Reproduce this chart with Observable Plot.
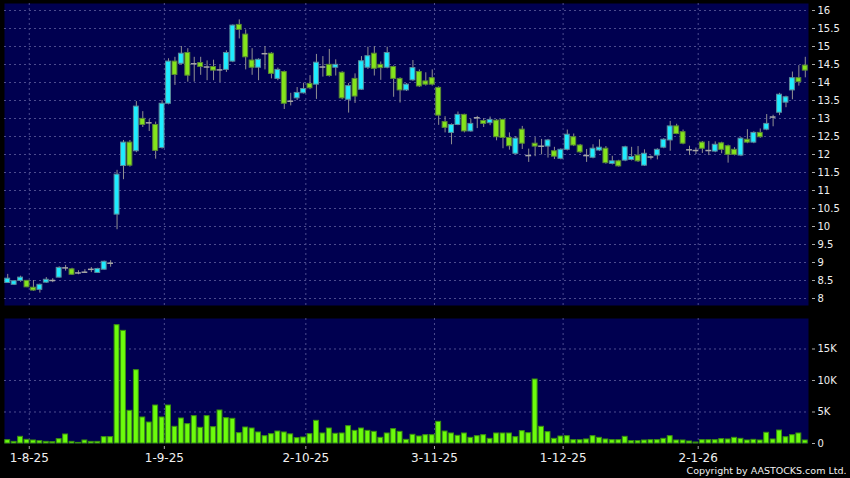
<!DOCTYPE html>
<html><head><meta charset="utf-8">
<script src="https://cdn.jsdelivr.net/npm/d3@7"></script>
<script src="https://cdn.jsdelivr.net/npm/@observablehq/plot@0.6"></script>
<style>
html,body{margin:0;padding:0;background:#000;}
#chart{width:850px;height:478px;background:#000;overflow:hidden;}
#chart svg{display:block;}
</style></head>
<body><div id="chart"></div>
<script>
// Daily candles, trading-day index 0..124 (late Jul 2025 – late Jan 2026)
const opens = [8.43,8.38,8.49,8.49,8.30,8.24,8.44,8.50,8.58,8.85,8.81,8.71,8.73,8.81,8.71,8.80,8.98,
10.33,11.68,12.33,12.09,12.99,12.88,12.82,12.18,13.41,14.58,14.52,14.82,14.52,14.54,14.43,14.43,14.35,14.35,14.58,15.60,15.33,14.61,14.41,14.80,14.80,14.10,14.29,13.48,13.56,
13.70,13.96,13.94,14.43,14.49,14.41,14.27,13.52,14.10,13.80,14.41,14.80,14.49,14.41,14.43,14.10,13.78,14.06,14.29,14.03,
14.12,13.85,12.90,12.60,12.82,13.10,12.64,13.02,12.93,12.87,12.94,12.96,12.46,12.02,12.69,11.97,12.30,12.23,12.22,12.09,
11.88,12.13,12.48,12.25,11.97,11.91,12.11,12.16,11.74,11.81,11.83,11.85,11.97,11.69,11.93,11.97,12.19,12.39,12.78,12.62,12.13,
12.11,12.33,12.11,12.08,12.31,12.23,12.13,11.97,12.41,12.33,12.60,12.69,13.04,13.16,13.44,13.78,14.12,14.47];
const highs = [8.67,8.50,8.62,8.50,8.50,8.40,8.58,8.55,8.88,8.92,8.84,8.77,8.80,8.86,8.84,9.04,9.05,
11.56,12.39,12.39,13.47,13.19,12.97,12.90,13.50,14.66,14.70,15.00,14.94,14.70,14.70,14.60,14.62,14.47,14.88,15.60,15.74,15.46,14.94,14.66,15.00,14.83,14.40,14.32,13.70,13.86,
13.98,14.19,14.78,14.72,14.92,14.63,14.30,13.97,14.24,14.72,14.98,15.00,14.57,14.98,14.46,14.13,13.97,14.61,14.35,14.27,
14.35,13.88,13.05,12.85,13.18,13.12,12.98,13.06,13.00,13.04,12.97,12.98,12.60,12.50,12.78,12.15,12.47,12.42,12.42,12.20,
12.16,12.68,12.57,12.28,12.14,12.27,12.41,12.22,11.95,11.84,12.23,12.20,12.22,12.13,11.96,12.16,12.44,12.92,12.84,12.68,12.23,
12.18,12.36,12.36,12.35,12.34,12.26,12.19,12.47,12.69,12.63,12.71,13.11,13.09,13.70,13.62,14.29,14.47,14.70];
const lows = [8.42,8.36,8.45,8.30,8.20,8.15,8.42,8.44,8.57,8.76,8.64,8.66,8.70,8.72,8.70,8.79,8.87,
9.91,11.30,11.65,12.05,12.75,12.64,11.87,12.15,13.38,13.92,14.48,14.01,14.01,14.20,14.05,14.05,14.00,14.28,14.55,15.21,14.35,14.20,14.05,14.35,14.10,14.05,13.25,13.35,13.50,
13.68,13.80,13.53,14.15,14.15,14.18,13.52,13.15,13.42,13.78,14.36,14.18,14.06,14.38,13.59,13.43,13.75,14.03,13.86,13.90,
13.90,12.81,12.60,12.27,12.80,12.60,12.62,12.72,12.75,12.80,12.38,12.16,12.12,11.98,12.14,11.78,11.94,11.99,11.90,11.86,
11.85,12.10,12.22,12.03,11.78,11.88,12.08,11.73,11.71,11.65,11.80,11.82,11.78,11.67,11.85,11.85,12.16,12.09,12.55,12.27,11.97,
12.00,12.03,11.97,12.05,12.02,11.76,11.96,11.94,12.30,12.30,12.45,12.66,12.77,13.08,13.30,13.52,13.90,14.13];
const closes = [8.55,8.48,8.58,8.31,8.22,8.38,8.52,8.50,8.85,8.85,8.66,8.71,8.73,8.81,8.82,9.02,8.98,
11.44,12.33,11.69,13.33,12.82,12.88,12.10,13.41,14.58,14.21,14.80,14.19,14.52,14.43,14.43,14.33,14.35,14.82,15.58,15.46,14.70,14.41,14.63,14.80,14.24,14.35,13.41,13.48,13.71,
13.82,13.84,14.55,14.43,14.18,14.49,13.56,13.90,13.61,14.59,14.73,14.38,14.40,14.82,14.10,13.78,13.94,14.40,13.89,13.94,
13.94,13.08,12.74,12.82,13.10,12.64,12.85,13.02,12.85,12.96,12.48,12.46,12.23,12.44,12.30,11.97,12.22,12.23,12.39,11.94,
12.13,12.55,12.25,12.06,11.97,12.16,12.19,11.76,11.81,11.67,12.20,11.93,11.81,12.02,11.93,12.13,12.41,12.78,12.57,12.30,12.13,
12.11,12.16,12.11,12.27,12.13,11.99,11.99,12.44,12.33,12.60,12.48,12.85,13.04,13.66,13.59,14.12,14.01,14.33];
const volumes = [530,260,1060,580,480,370,260,210,690,1430,260,100,480,260,260,1010,1010,
18780,17880,5190,11640,4130,3330,6030,4130,6030,2650,3970,3070,4340,2490,4340,2590,5240,4020,3920,1640,2540,2380,1750,1160,1480,1900,1750,1450,850,
950,1480,3600,1590,2380,1540,1590,2750,2010,2380,2010,1850,900,1590,2280,1850,580,1380,1110,1320,
1320,3440,1900,1590,1220,1590,900,1160,1320,740,1590,1590,1590,1010,1960,1640,10160,2650,1800,740,
1110,1160,530,530,640,1160,900,640,530,530,1060,370,370,480,530,530,740,1160,480,480,320,
160,530,530,530,690,640,900,740,480,580,480,1700,640,2060,1000,1320,1590,480];
// first trading day of each month, as candle index, and its label
const tickIndex = [3, 24, 46, 66, 86, 107];
const tickLabels = ["1-8-25", "1-9-25", "2-10-25", "3-11-25", "1-12-25", "2-1-26"];
const priceTicks = [8,8.5,9,9.5,10,10.5,11,11.5,12,12.5,13,13.5,14,14.5,15,15.5,16];
const volumeTicks = [0,5000,10000,15000];
const copyright = "Copyright by AASTOCKS.com Ltd.";

const candles = opens.map((o, i) => ({i, open: o, high: highs[i], low: lows[i], close: closes[i], volume: volumes[i]}));
const up = candles.filter(d => d.close > d.open);
const down = candles.filter(d => d.close < d.open);
const flat = candles.filter(d => d.close === d.open);

const NAVY = "#000050", GRID = "#4c4c8e";
const CYAN = "#1eecff", CYAN_EDGE = "#5a8c9c";
const GREEN = "#84e41c", GREEN_EDGE = "#5a8a34";
const LIME = "#6cfc0c", LIME_EDGE = "#3a9010";
const WICK = "#909090";
const OFF = 0.35, HW = 0.38;
const gridX = tickIndex.map(d => d + OFF);
const labelOf = new Map(gridX.map((d, k) => [d, tickLabels[k]]));
const xScale = {type: "linear", domain: [-0.5, 124.5], axis: null};
const style = {background: "transparent", color: "#fff", fontFamily: "DejaVu Sans, sans-serif", overflow: "visible"};

const price = Plot.plot({
  width: 850, height: 310,
  marginLeft: 4, marginRight: 42, marginTop: 3, marginBottom: 5,
  style,
  x: xScale,
  y: {domain: [8 - 7/36, 16 + 7/36], axis: null},
  marks: [
    Plot.frame({fill: NAVY, stroke: null}),
    Plot.ruleY(priceTicks, {stroke: GRID, strokeDasharray: "2,3"}),
    Plot.ruleX(gridX, {stroke: GRID, strokeDasharray: "2,3"}),
    Plot.ruleX(candles, {x: "i", y1: "low", y2: "high", stroke: WICK}),
    Plot.rect(up, {x1: d => d.i - HW, x2: d => d.i + HW, y1: "open", y2: "close", fill: CYAN, stroke: CYAN_EDGE}),
    Plot.rect(down, {x1: d => d.i - HW, x2: d => d.i + HW, y1: "open", y2: "close", fill: GREEN, stroke: GREEN_EDGE}),
    Plot.ruleY(flat, {y: "close", x1: d => d.i - 0.45, x2: d => d.i + 0.45, stroke: "#a8a8a8", strokeWidth: 1.5}),
    Plot.axisY(priceTicks, {anchor: "right", tickSize: 3, tickPadding: 3, dx: 3, fontSize: 10, stroke: "#aaa", fill: "#f0f0f0", label: null, tickFormat: d => String(d)})
  ]
});

const volume = Plot.plot({
  width: 850, height: 168,
  marginLeft: 4, marginRight: 42, marginTop: 8, marginBottom: 35,
  style,
  x: xScale,
  y: {domain: [0, 19840], axis: null},
  marks: [
    Plot.frame({fill: NAVY, stroke: null}),
    Plot.ruleY(volumeTicks.filter(d => d > 0), {stroke: GRID, strokeDasharray: "2,3"}),
    Plot.ruleX(gridX, {stroke: GRID, strokeDasharray: "2,3"}),
    Plot.rectY(candles, {x1: d => d.i - HW, x2: d => d.i + HW, y: "volume", fill: LIME, stroke: LIME_EDGE}),
    Plot.axisY(volumeTicks, {anchor: "right", tickSize: 3, tickPadding: 3, dx: 3, fontSize: 10, stroke: "#aaa", fill: "#f0f0f0", label: null, tickFormat: d => d === 0 ? "0" : (d / 1000) + "K"}),
    Plot.axisX(gridX, {anchor: "bottom", tickSize: 3, tickPadding: 4, dy: 3, fontSize: 12, stroke: "#aaa", fill: "#f0f0f0", label: null, tickFormat: d => labelOf.get(d)}),
    Plot.text([copyright], {frameAnchor: "bottom-right", textAnchor: "end", lineAnchor: "middle", dx: 38, dy: 27, fill: "#f0f0f0", fontSize: 9.5})
  ]
});

const root = document.getElementById("chart");
root.appendChild(price);
root.appendChild(volume);
</script>
</body></html>
